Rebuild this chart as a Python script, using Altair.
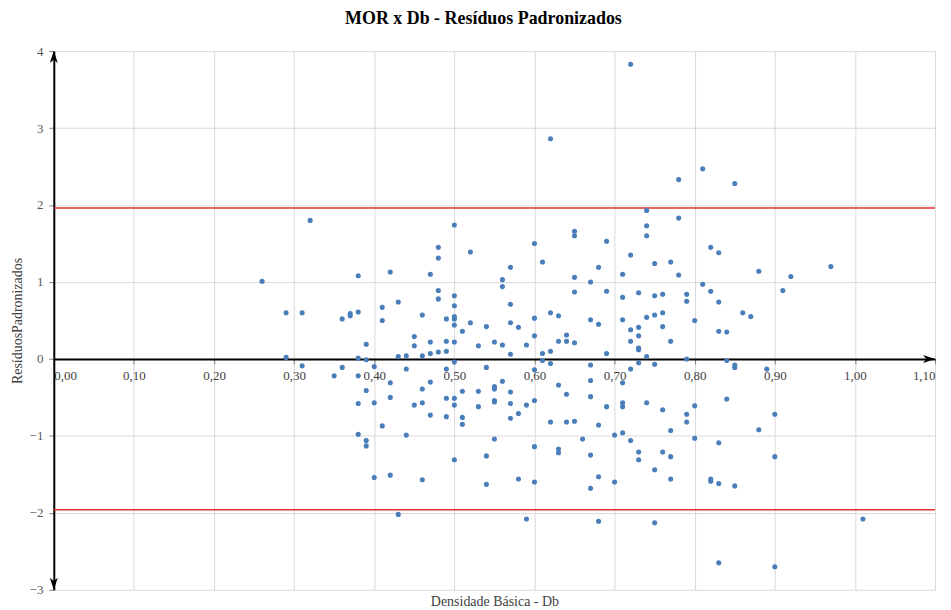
import altair as alt
import pandas as pd

# Densidade básica (Db) and standardized residuals
db = [
    0.32, 0.26, 0.38, 0.42, 0.29, 0.31, 0.36, 0.37, 0.37, 0.38, 0.41, 0.41, 0.43, 0.46, 0.45, 0.45, 0.39,
    0.29, 0.38, 0.39, 0.43, 0.44, 0.46, 0.31, 0.36, 0.40, 0.44,
    0.35, 0.38, 0.39, 0.42, 0.42, 0.38, 0.40, 0.45, 0.46, 0.46, 0.41, 0.38, 0.39, 0.39, 0.44, 0.40, 0.42,
    0.46, 0.43, 0.47, 0.47,
    0.50, 0.48, 0.48, 0.52, 0.60, 0.61, 0.65, 0.65, 0.69, 0.47, 0.57, 0.56, 0.56, 0.65, 0.65, 0.68, 0.67,
    0.69, 0.48, 0.48, 0.50, 0.50, 0.57, 0.62, 0.63, 0.49, 0.50, 0.50, 0.50, 0.52, 0.51, 0.54, 0.57, 0.58,
    0.60, 0.60, 0.67, 0.68, 0.64, 0.47, 0.49, 0.50, 0.53, 0.55, 0.56, 0.59, 0.63, 0.64, 0.65, 0.47, 0.48,
    0.49, 0.57, 0.61, 0.62, 0.69, 0.50, 0.61, 0.62, 0.54, 0.67, 0.49, 0.60,
    0.67, 0.49, 0.50, 0.50, 0.51, 0.53, 0.55, 0.55, 0.56, 0.57, 0.55, 0.55, 0.53, 0.57, 0.59, 0.60, 0.63,
    0.64, 0.67, 0.49, 0.51, 0.51, 0.57, 0.58, 0.62, 0.64, 0.65, 0.68, 0.69, 0.55, 0.66, 0.60, 0.63, 0.63,
    0.67, 0.50, 0.54, 0.58, 0.60, 0.54, 0.67, 0.68, 0.59, 0.68,
    0.81, 0.78, 0.85, 0.74, 0.78, 0.74, 0.74, 0.82, 0.83, 0.72, 0.75, 0.77, 0.78, 0.88, 0.71, 0.81, 0.82,
    0.91, 0.73, 0.71, 0.75, 0.76, 0.79, 0.79, 0.83, 0.86, 0.87, 0.71, 0.80, 0.74, 0.75, 0.76, 0.76, 0.72,
    0.73, 0.73, 0.72, 0.77, 0.83, 0.84, 0.73, 0.73, 0.74, 0.79, 0.73, 0.75, 0.84, 0.85, 0.85, 0.72, 0.89,
    0.71, 0.71, 0.71, 0.74, 0.76, 0.79, 0.79, 0.80, 0.84, 0.90, 0.70, 0.71, 0.72, 0.77, 0.80, 0.83, 0.88,
    0.73, 0.73, 0.76, 0.77, 0.90, 0.75, 0.77, 0.82, 0.82, 0.83, 0.85, 0.70, 0.75, 0.83, 0.90,
    0.92, 0.97, 1.01, 0.72, 0.62,
]
residuo = [
    1.80, 1.01, 1.08, 1.13, 0.60, 0.60, 0.52, 0.59, 0.56, 0.61, 0.67, 0.50, 0.74, 0.57, 0.29, 0.17, 0.19,
    0.02, 0.01, -0.01, 0.03, 0.04, 0.04, -0.09, -0.11, -0.10, -0.13,
    -0.22, -0.22, -0.41, -0.31, -0.50, -0.58, -0.57, -0.60, -0.57, -0.39, -0.87, -0.98, -1.06, -1.13, -0.99, -1.54, -1.51,
    -1.57, -2.02, -0.30, -0.73,
    1.74, 1.45, 1.31, 1.39, 1.50, 1.26, 1.66, 1.60, 1.53, 1.10, 1.19, 1.03, 0.94, 1.06, 0.87, 1.19, 1.00,
    0.88, 0.89, 0.78, 0.82, 0.69, 0.71, 0.60, 0.56, 0.52, 0.55, 0.52, 0.44, 0.47, 0.36, 0.42, 0.47, 0.41,
    0.53, 0.30, 0.51, 0.45, 0.31, 0.22, 0.23, 0.22, 0.17, 0.22, 0.18, 0.18, 0.23, 0.23, 0.21, 0.07, 0.09,
    0.10, 0.06, 0.07, 0.10, 0.07, -0.04, -0.02, -0.06, -0.11, -0.08, -0.13, -0.14,
    -0.28, -0.51, -0.51, -0.60, -0.42, -0.42, -0.36, -0.39, -0.29, -0.43, -0.54, -0.56, -0.62, -0.58, -0.60, -0.54, -0.34,
    -0.46, -0.49, -0.75, -0.76, -0.85, -0.77, -0.71, -0.82, -0.82, -0.81, -0.86, -0.62, -1.04, -1.04, -1.14, -1.17, -1.22,
    -1.25, -1.31, -1.26, -1.56, -1.60, -1.63, -1.68, -1.53, -2.08, -2.11,
    2.47, 2.33, 2.28, 1.93, 1.83, 1.73, 1.60, 1.45, 1.38, 1.35, 1.24, 1.26, 1.09, 1.14, 1.10, 0.97, 0.88,
    0.89, 0.86, 0.80, 0.82, 0.84, 0.84, 0.75, 0.74, 0.60, 0.55, 0.51, 0.50, 0.54, 0.57, 0.60, 0.42, 0.38,
    0.41, 0.30, 0.23, 0.23, 0.36, 0.35, 0.14, 0.12, 0.03, 0.00, -0.05, -0.07, -0.02, -0.08, -0.11, -0.13, -0.13,
    -0.31, -0.57, -0.62, -0.57, -0.66, -0.72, -0.82, -0.61, -0.52, -0.72, -0.99, -0.96, -1.06, -0.93, -1.03, -1.09, -0.92,
    -1.21, -1.31, -1.21, -1.27, -1.27, -1.44, -1.56, -1.56, -1.59, -1.62, -1.65, -1.60, -2.13, -2.65, -2.70,
    1.07, 1.20, -2.08, 3.83, 2.86,
]

limites = [1.96, -1.96]
x_ticks = [0.0, 0.1, 0.2, 0.3, 0.4, 0.5, 0.6, 0.7, 0.8, 0.9, 1.0, 1.1]
y_ticks = [-3, -2, -1, 0, 1, 2, 3, 4]
x_dom = [0.0, 1.1]
y_dom = [-3, 4]

# arrow heads at the ends of the axes (data positions)
seta_x = [0.0, 0.0, 1.1]
seta_y = [4, -3, 0]
seta_ang = [0, 180, 90]

W, H = 885, 541
FONT = "Liberation Serif"
zero_offset = -H * (0 - y_dom[0]) / (y_dom[1] - y_dom[0])

df = pd.DataFrame({"Db": db, "Res": residuo})
df_lim = pd.DataFrame({"lim": limites})
df_seta = pd.DataFrame({"x": seta_x, "y": seta_y, "a": seta_ang})

xs = alt.Scale(domain=x_dom, nice=False, zero=False)
ys = alt.Scale(domain=y_dom, nice=False, zero=False)

x_axis = alt.Axis(
    values=x_ticks,
    labelExpr="replace(format(datum.value, '.2f'), '.', ',')",
    offset=zero_offset,
    grid=True, gridColor="#d9d9d9", gridWidth=1,
    domainColor="black", domainWidth=2,
    tickColor="#7f7f7f", tickSize=5, tickWidth=1,
    labelFont=FONT, labelFontSize=13, labelColor="#404040", labelPadding=6,
    labelOverlap=False,
    title="Densidade Básica - Db", titleFont=FONT, titleFontSize=14, titleFontWeight="normal",
    titleColor="#404040", titleBaseline="top", titleY=-zero_offset + 5,
)
y_axis = alt.Axis(
    values=y_ticks, format="d",
    grid=True, gridColor="#d9d9d9", gridWidth=1,
    domainColor="black", domainWidth=2,
    tickColor="#7f7f7f", tickSize=5, tickWidth=1,
    labelFont=FONT, labelFontSize=13, labelColor="#595959", labelPadding=6,
    title="ResíduosPadronizados", titleFont=FONT, titleFontSize=14, titleFontWeight="normal",
    titleColor="#404040", titlePadding=5,
)

pontos = alt.Chart(df).mark_circle(size=26, color="#4a7ebb", opacity=1).encode(
    x=alt.X("Db:Q", scale=xs, axis=x_axis),
    y=alt.Y("Res:Q", scale=ys, axis=y_axis),
)

linhas = alt.Chart(df_lim).mark_rule(color="#e0302c", strokeWidth=1.5).encode(
    y=alt.Y("lim:Q", scale=ys),
)

setas = alt.Chart(df_seta).mark_point(
    shape="M0,0L1,3L0,2.2L-1,3Z", filled=True, color="black", opacity=1, size=64,
).encode(
    x=alt.X("x:Q", scale=xs),
    y=alt.Y("y:Q", scale=ys),
    angle=alt.Angle("a:Q", scale=None),
)

chart = alt.layer(linhas, pontos, setas).properties(
    width=W, height=H,
    title=alt.TitleParams(
        "MOR x Db - Resíduos Padronizados", font=FONT, fontSize=18, fontWeight="bold",
        color="black", anchor="middle", offset=17, dx=-11,
    ),
    autosize=alt.AutoSizeParams(type="none"),
    padding={"left": 46, "top": 42, "right": 8, "bottom": 18},
).configure_view(stroke=None)

chart.save("out.html", embed_options={"renderer": "svg", "actions": False})
